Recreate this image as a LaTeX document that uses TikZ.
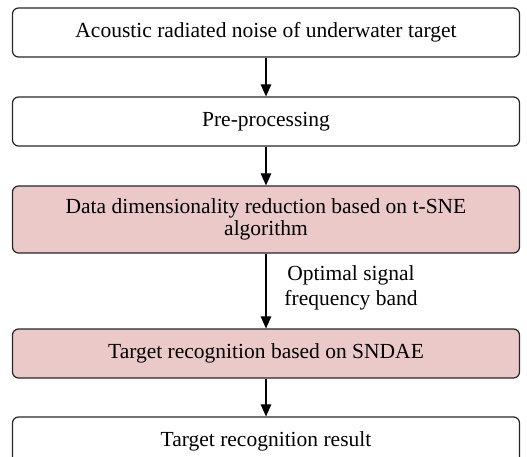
\documentclass[tikz,border=0pt]{standalone}
\usepackage{fontspec}
\setmainfont{Liberation Serif}
\usetikzlibrary{arrows.meta}
\definecolor{pinkfill}{HTML}{EBC9C9}
\tikzset{
  flowbox/.style={draw=black!85, line width=1.2pt, rounded corners=6pt, minimum width=507pt, inner sep=0pt, align=center, font=\fontsize{21.5}{23}\selectfont},
  pinkbox/.style={flowbox, fill=pinkfill},
  flowarrow/.style={draw=black, line width=1.1pt, -{Triangle[length=12pt,width=10.5pt]}},
  lbl/.style={font=\fontsize{21.5}{25}\selectfont, align=center, inner sep=0pt}
}
\begin{document}
\begin{tikzpicture}[x=1pt,y=-1pt]
\useasboundingbox (0,0) rectangle (527,457);
\clip (0,0) rectangle (527,457);
\node[flowbox, minimum height=49pt] (b1) at (266,32.5) {\raisebox{-2pt}{Acoustic radiated noise of underwater target}};
\node[flowbox, minimum height=49pt] (b2) at (266,121.5) {\raisebox{-2pt}{Pre-processing}};
\node[pinkbox, minimum height=67pt] (b3) at (266,219.5) {\raisebox{-3pt}{\shortstack{Data dimensionality reduction based on t-SNE\\algorithm}}};
\node[pinkbox, minimum height=49pt] (b4) at (266,353.5) {\raisebox{-2pt}{Target recognition based on SNDAE}};
\node[flowbox, minimum height=49pt] (b5) at (266,441.5) {\raisebox{-2pt}{Target recognition result}};
\draw[flowarrow] (b1) -- (b2);
\draw[flowarrow] (b2) -- (b3);
\draw[flowarrow] (b3) -- (b4);
\draw[flowarrow] (b4) -- (b5);
\node[lbl] (l1) at (351,288) {Optimal signal\\frequency band};
\end{tikzpicture}
\end{document}
